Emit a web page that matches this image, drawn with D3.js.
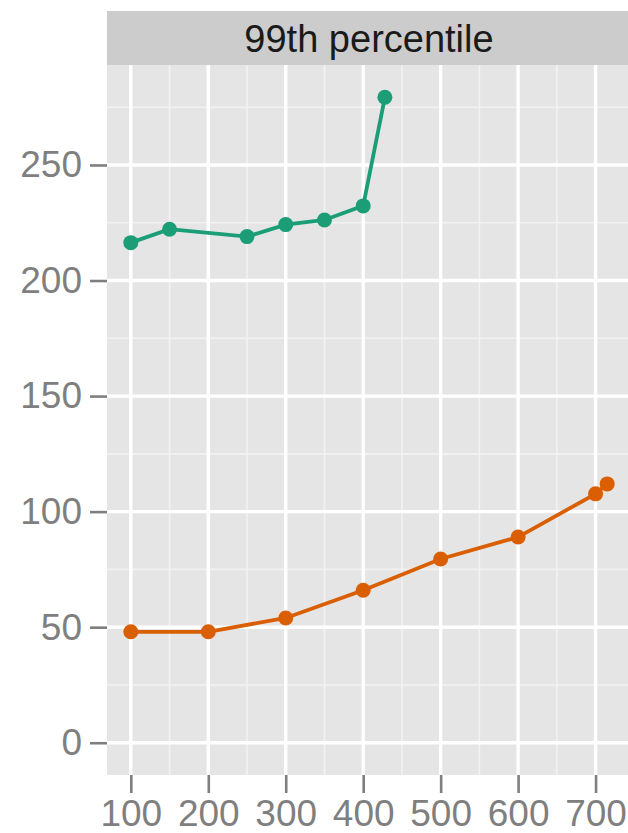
<!DOCTYPE html>
<html>
<head>
<meta charset="utf-8">
<script src="https://cdn.jsdelivr.net/npm/d3@7"></script>
<style>
  body { margin: 0; background: #fff; }
  svg { display: block; font-family: "Liberation Sans", Arial, sans-serif; }
</style>
</head>
<body>
<div id="wrapper"></div>
<script>
// data
const stripLabel = '99th percentile'
const greenX = [100, 150, 250, 300, 350, 400, 428]
const greenY = [216.4, 222.2, 219, 224.2, 226.2, 232.3, 279.3]
const orangeX = [100, 200, 300, 400, 500, 600, 700, 715]
const orangeY = [48, 48, 54, 66, 79.5, 89, 107.7, 112]
const xTicks = [100, 200, 300, 400, 500, 600, 700]
const xMinor = [150, 250, 350, 450, 550, 650]
const yTicks = [0, 50, 100, 150, 200, 250]
const yMinor = [25, 75, 125, 175, 225, 275]

const series = [
  { color: '#1b9e77', pts: greenX.map((x, i) => ({ x, y: greenY[i] })) },
  { color: '#d95f02', pts: orangeX.map((x, i) => ({ x, y: orangeY[i] })) },
]

function drawChart() {
  const dimensions = {
    width: 628,
    height: 833,
    margin: { top: 65, right: -3, bottom: 58, left: 107 },
    strip: 54,
  }
  dimensions.boundedWidth = dimensions.width - dimensions.margin.left - dimensions.margin.right
  dimensions.boundedHeight = dimensions.height - dimensions.margin.top - dimensions.margin.bottom

  const wrapper = d3.select('#wrapper')
    .append('svg')
      .attr('width', dimensions.width)
      .attr('height', dimensions.height)

  const bounds = wrapper.append('g')
    .attr('transform', `translate(${dimensions.margin.left}, ${dimensions.margin.top})`)

  // scales with ggplot-like 5% expansion, y includes 0
  const allX = greenX.concat(orangeX)
  const allY = greenY.concat(orangeY, [0])
  const [x0, x1] = d3.extent(allX)
  const [y0, y1] = d3.extent(allY)
  const xPad = (x1 - x0) * 0.05
  const yPad = (y1 - y0) * 0.05

  const xScale = d3.scaleLinear()
    .domain([x0 - xPad, x1 + xPad])
    .range([0, dimensions.boundedWidth])
  const yScale = d3.scaleLinear()
    .domain([y0 - yPad, y1 + yPad])
    .range([dimensions.boundedHeight, 0])

  // strip
  wrapper.append('rect')
    .attr('x', dimensions.margin.left)
    .attr('y', dimensions.margin.top - dimensions.strip)
    .attr('width', dimensions.boundedWidth)
    .attr('height', dimensions.strip)
    .attr('fill', '#cccccc')
  wrapper.append('text')
    .attr('x', dimensions.margin.left + dimensions.boundedWidth / 2)
    .attr('y', dimensions.margin.top - dimensions.strip / 2)
    .attr('dy', '0.36em')
    .attr('text-anchor', 'middle')
    .attr('font-size', 38)
    .attr('fill', '#1a1a1a')
    .text(stripLabel)

  // panel
  bounds.append('rect')
    .attr('width', dimensions.boundedWidth)
    .attr('height', dimensions.boundedHeight)
    .attr('fill', '#e5e5e5')

  const grid = bounds.append('g')
  grid.selectAll('.xmin').data(xMinor).join('line')
    .attr('x1', d => xScale(d)).attr('x2', d => xScale(d))
    .attr('y1', 0).attr('y2', dimensions.boundedHeight)
    .attr('stroke', '#f2f2f2').attr('stroke-width', 1.6)
  grid.selectAll('.ymin').data(yMinor).join('line')
    .attr('y1', d => yScale(d)).attr('y2', d => yScale(d))
    .attr('x1', 0).attr('x2', dimensions.boundedWidth)
    .attr('stroke', '#f2f2f2').attr('stroke-width', 1.6)
  grid.selectAll('.xmaj').data(xTicks).join('line')
    .attr('x1', d => xScale(d)).attr('x2', d => xScale(d))
    .attr('y1', 0).attr('y2', dimensions.boundedHeight)
    .attr('stroke', '#ffffff').attr('stroke-width', 3.4)
  grid.selectAll('.ymaj').data(yTicks).join('line')
    .attr('y1', d => yScale(d)).attr('y2', d => yScale(d))
    .attr('x1', 0).attr('x2', dimensions.boundedWidth)
    .attr('stroke', '#ffffff').attr('stroke-width', 3.4)

  // lines + points
  const lineGenerator = d3.line()
    .x(d => xScale(d.x))
    .y(d => yScale(d.y))

  series.forEach(s => {
    bounds.append('path')
      .attr('d', lineGenerator(s.pts))
      .attr('fill', 'none')
      .attr('stroke', s.color)
      .attr('stroke-width', 3.8)
    bounds.append('g').selectAll('circle').data(s.pts).join('circle')
      .attr('cx', d => xScale(d.x))
      .attr('cy', d => yScale(d.y))
      .attr('r', 7.5)
      .attr('fill', s.color)
  })

  // axes
  const yAxis = bounds.append('g')
    .call(d3.axisLeft(yScale).tickValues(yTicks).tickSize(17).tickPadding(8))
  const xAxis = bounds.append('g')
    .attr('transform', `translate(0, ${dimensions.boundedHeight})`)
    .call(d3.axisBottom(xScale).tickValues(xTicks).tickSize(18).tickPadding(7))

  ;[xAxis, yAxis].forEach(ax => {
    ax.select('.domain').remove()
    ax.selectAll('line').attr('stroke', '#7f7f7f').attr('stroke-width', 2.6)
    ax.selectAll('text')
      .attr('fill', '#7f7f7f')
      .attr('font-size', 37)
      .attr('font-family', '"Liberation Sans", Arial, sans-serif')
  })
}
drawChart()
</script>
</body>
</html>
